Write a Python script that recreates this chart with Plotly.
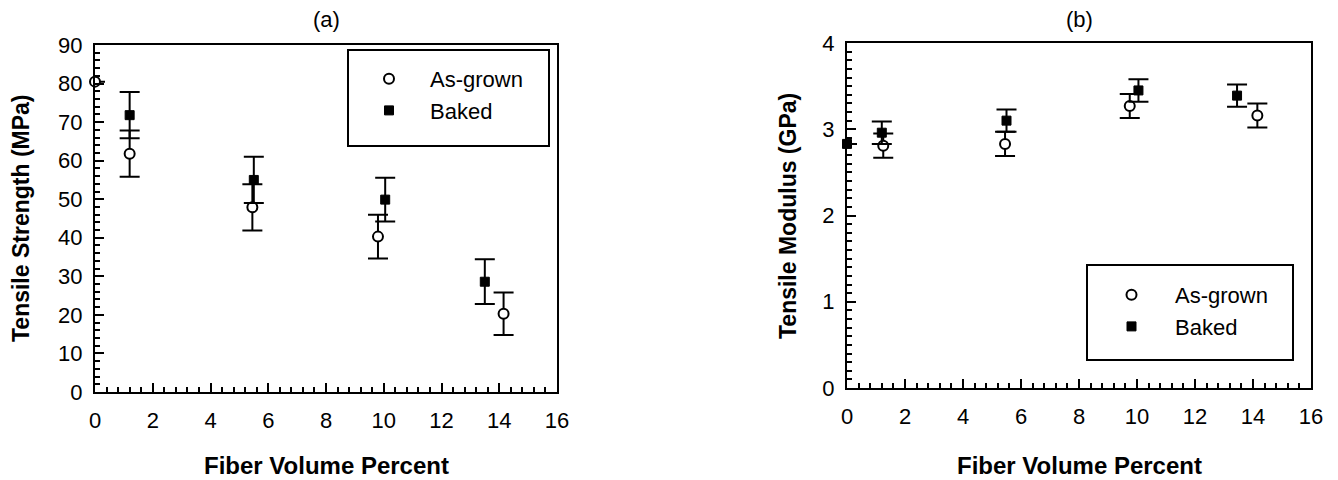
import plotly.graph_objects as go

# ---------------- data ----------------
# (a) Tensile strength (MPa)
a_grown_x = [0.0, 1.2, 5.45, 9.8, 14.15]
a_grown_y = [80.5, 61.8, 47.9, 40.3, 20.3]
a_grown_err = [0.0, 6.0, 6.0, 5.7, 5.5]

a_baked_x = [1.2, 5.5, 10.05, 13.5]
a_baked_y = [71.8, 55.0, 49.9, 28.6]
a_baked_err = [6.0, 6.0, 5.7, 5.8]

# (b) Tensile modulus (GPa)
b_grown_x = [1.25, 5.45, 9.75, 14.15]
b_grown_y = [2.81, 2.83, 3.27, 3.16]
b_grown_err = [0.14, 0.14, 0.14, 0.14]

b_baked_x = [0.0, 1.2, 5.5, 10.05, 13.45]
b_baked_y = [2.83, 2.96, 3.10, 3.45, 3.39]
b_baked_err = [0.0, 0.13, 0.13, 0.13, 0.13]

series_names = ["As-grown", "Baked"]
panel_titles = ["(a)", "(b)"]
x_title = "Fiber Volume Percent"
y_titles = ["Tensile Strength (MPa)", "Tensile Modulus (GPa)"]

# ---------------- style ----------------
W, H = 1338, 480
FONT = "Liberation Sans, Arial, Helvetica, sans-serif"
BLACK = "black"

def px(x):
    return x / W

def py(y):
    return 1 - y / H

err_style = dict(type="data", color=BLACK, thickness=2, width=10)

def circle_trace(x, y, e, xa, ya, legend):
    return go.Scatter(
        x=x, y=y, mode="markers", name=series_names[0],
        xaxis=xa, yaxis=ya, legend=legend, cliponaxis=False,
        marker=dict(symbol="circle", size=10, color="white",
                    line=dict(color=BLACK, width=2)),
        error_y=dict(array=e, visible=True, **err_style),
    )

def square_trace(x, y, e, xa, ya, legend):
    return go.Scatter(
        x=x, y=y, mode="markers", name=series_names[1],
        xaxis=xa, yaxis=ya, legend=legend, cliponaxis=False,
        marker=dict(symbol="square", size=9, color=BLACK,
                    line=dict(color=BLACK, width=1)),
        error_y=dict(array=e, visible=True, **err_style),
    )

fig = go.Figure()
fig.add_trace(circle_trace(a_grown_x, a_grown_y, a_grown_err, "x", "y", "legend"))
fig.add_trace(square_trace(a_baked_x, a_baked_y, a_baked_err, "x", "y", "legend"))
fig.add_trace(circle_trace(b_grown_x, b_grown_y, b_grown_err, "x2", "y2", "legend2"))
fig.add_trace(square_trace(b_baked_x, b_baked_y, b_baked_err, "x2", "y2", "legend2"))

tickfont = dict(family=FONT, size=22, color=BLACK)

def xaxis_cfg(domain, anchor):
    return dict(
        domain=domain, anchor=anchor, range=[0, 16], dtick=2, tick0=0,
        showgrid=False, zeroline=False, showline=True, linecolor=BLACK,
        linewidth=2, mirror=True, ticks="inside", ticklen=9, tickwidth=2,
        tickcolor=BLACK, tickfont=tickfont, ticklabelstandoff=8,
        automargin=False,
        minor=dict(dtick=0.4, ticks="inside", ticklen=5, tickwidth=1.5,
                   tickcolor=BLACK, showgrid=False),
    )

def yaxis_cfg(domain, anchor, rng, dtick, mdtick):
    return dict(
        domain=domain, anchor=anchor, range=rng, dtick=dtick, tick0=0,
        showgrid=False, zeroline=False, showline=True, linecolor=BLACK,
        linewidth=2, mirror=True, ticks="inside", ticklen=9, tickwidth=2,
        tickcolor=BLACK, tickfont=tickfont, ticklabelstandoff=6,
        automargin=False,
        minor=dict(dtick=mdtick, ticks="inside", ticklen=5, tickwidth=1.5,
                   tickcolor=BLACK, showgrid=False),
    )

ax_l = [px(95), px(557)]
ax_r = [px(847), px(1311)]
ay_l = [py(392), py(45)]
ay_r = [py(388), py(43)]

legend_font = dict(family=FONT, size=22, color=BLACK)

def ann(text, x, y, size, angle=0):
    return dict(text=text, xref="paper", yref="paper", x=px(x), y=py(y),
                xanchor="center", yanchor="middle", showarrow=False,
                textangle=angle, font=dict(family=FONT, size=size, color=BLACK))

fig.update_layout(
    width=W, height=H,
    margin=dict(l=0, r=0, t=0, b=0, pad=0),
    paper_bgcolor="white", plot_bgcolor="white",
    xaxis=xaxis_cfg(ax_l, "y"),
    yaxis=yaxis_cfg(ay_l, "x", [0, 90], 10, 2),
    xaxis2=xaxis_cfg(ax_r, "y2"),
    yaxis2=yaxis_cfg(ay_r, "x2", [0, 4], 1, 0.1),
    legend=dict(x=px(348), y=py(58), xanchor="left", yanchor="top",
                font=legend_font, itemwidth=72, bgcolor="rgba(0,0,0,0)",
                borderwidth=0, tracegroupgap=0),
    legend2=dict(x=px(1088), y=py(274), xanchor="left", yanchor="top",
                 font=legend_font, itemwidth=77, bgcolor="rgba(0,0,0,0)",
                 borderwidth=0, tracegroupgap=0),
    shapes=[
        dict(type="rect", xref="paper", yref="paper",
             x0=px(348), x1=px(549), y0=py(146), y1=py(50),
             line=dict(color=BLACK, width=2), fillcolor="rgba(0,0,0,0)"),
        dict(type="rect", xref="paper", yref="paper",
             x0=px(1087), x1=px(1293), y0=py(360), y1=py(265),
             line=dict(color=BLACK, width=2), fillcolor="rgba(0,0,0,0)"),
    ],
    annotations=[
        ann(panel_titles[0], 326, 20, 22),
        ann(panel_titles[1], 1079, 20, 22),
        ann("<b>" + x_title + "</b>", 326, 465, 24),
        ann("<b>" + x_title + "</b>", 1079, 465, 24),
        ann("<b>" + y_titles[0] + "</b>", 21, 218, 23, -90),
        ann("<b>" + y_titles[1] + "</b>", 788, 216, 23, -90),
    ],
)

fig.write_html(
    "out.html",
    config={"displayModeBar": False},
    post_script="document.body.style.margin='0';document.body.style.overflow='hidden';",
)
